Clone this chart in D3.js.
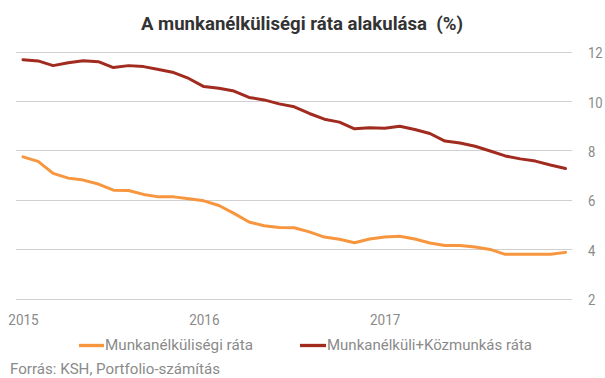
<!DOCTYPE html>
<html>
<head>
<meta charset="utf-8">
<script src="https://cdn.jsdelivr.net/npm/d3@7"></script>
<style>
  html, body { margin: 0; padding: 0; background: #fff; }
  svg { display: block; font-family: Roboto, "Noto Sans", sans-serif; }
  text { white-space: pre; }
</style>
</head>
<body>
<svg id="chart" width="605" height="378"></svg>
<script>
const title = "A munkanélküliségi ráta alakulása  (%)";
const source = "Forrás: KSH, Portfolio-számítás";
const months = ["2015-01","2015-02","2015-03","2015-04","2015-05","2015-06","2015-07","2015-08","2015-09","2015-10","2015-11","2015-12",
  "2016-01","2016-02","2016-03","2016-04","2016-05","2016-06","2016-07","2016-08","2016-09","2016-10","2016-11","2016-12",
  "2017-01","2017-02","2017-03","2017-04","2017-05","2017-06","2017-07","2017-08","2017-09","2017-10","2017-11","2017-12","2018-01"];
const seriesNames = ["Munkanélküliségi ráta", "Munkanélküli+Közmunkás ráta"];
const unemployment = [7.76,7.58,7.09,6.90,6.82,6.66,6.41,6.40,6.24,6.14,6.14,6.06,5.98,5.79,5.47,5.12,4.97,4.90,4.89,4.72,4.51,4.42,4.28,4.43,4.51,4.54,4.43,4.27,4.17,4.17,4.11,4.01,3.81,3.81,3.81,3.81,3.89];
const withPublicWork = [11.70,11.65,11.46,11.58,11.66,11.62,11.38,11.46,11.42,11.30,11.18,10.94,10.61,10.54,10.43,10.17,10.07,9.91,9.79,9.52,9.29,9.17,8.90,8.94,8.92,9.00,8.87,8.71,8.40,8.32,8.19,8.00,7.80,7.68,7.59,7.43,7.29];
const xTickMonths = ["2015-01","2016-01","2017-01"];
const xTickLabels = ["2015","2016","2017"];
const yTicks = [2,4,6,8,10,12];
const colors = ["#f7963e", "#a22b20"];

const svg = d3.select("#chart");
const x = d3.scalePoint().domain(months).range([23, 565.5]);
const y = d3.scaleLinear().domain([2, 12]).range([299, 52.3]);
const gray = "#8a8a8a";

function condense(sel, k) {
  sel.each(function() {
    const w = this.getComputedTextLength();
    d3.select(this).attr("textLength", w * k).attr("lengthAdjust", "spacingAndGlyphs");
  });
}

// grid
svg.append("g").selectAll("line").data(yTicks).join("line")
  .attr("x1", 16).attr("x2", 572)
  .attr("y1", d => y(d)).attr("y2", d => y(d))
  .attr("stroke", "#d0d0d0").attr("stroke-width", 1).attr("shape-rendering", "crispEdges");

// y axis labels (right)
const yAxis = d3.axisRight(y).tickValues(yTicks).tickSize(0).tickPadding(0);
const gy = svg.append("g").attr("transform", "translate(588,0)").call(yAxis);
gy.select(".domain").remove();
gy.selectAll("text").attr("fill", gray).attr("font-size", 15).attr("dy", "0.36em")
  .attr("font-family", "Roboto").call(condense, 0.87);

// x axis labels
const xAxis = d3.axisBottom(x).tickValues(xTickMonths).tickFormat((d, i) => xTickLabels[i]).tickSize(0).tickPadding(0);
const gx = svg.append("g").attr("transform", "translate(0,314)").call(xAxis);
gx.select(".domain").remove();
gx.selectAll("text").attr("fill", gray).attr("font-size", 15).attr("dy", "0.71em")
  .attr("font-family", "Roboto").call(condense, 0.9);

// lines
const line = d3.line().x((d, i) => x(months[i])).y(d => y(d));
[unemployment, withPublicWork].forEach((s, k) => {
  svg.append("path").datum(s).attr("d", line)
    .attr("fill", "none").attr("stroke", colors[k]).attr("stroke-width", 3)
    .attr("stroke-linejoin", "round").attr("stroke-linecap", "round");
});

// title
svg.append("text").attr("x", 302).attr("y", 30).attr("text-anchor", "middle")
  .attr("font-size", 18.5).attr("font-weight", "bold").attr("fill", "#333")
  .attr("textLength", 322).attr("lengthAdjust", "spacingAndGlyphs")
  .text(title);

// legend
const legendItems = [
  {x1: 79, x2: 104, tx: 105, w: 148},
  {x1: 300, x2: 326, tx: 327, w: 205}
];
legendItems.forEach((l, k) => {
  svg.append("line").attr("x1", l.x1).attr("x2", l.x2).attr("y1", 345.5).attr("y2", 345.5)
    .attr("stroke", colors[k]).attr("stroke-width", 3.3);
  svg.append("text").attr("x", l.tx).attr("y", 350).attr("font-size", 15).attr("fill", gray)
    .attr("textLength", l.w).attr("lengthAdjust", "spacingAndGlyphs")
    .text(seriesNames[k]);
});

// source
svg.append("text").attr("x", 10).attr("y", 374).attr("font-size", 15).attr("fill", gray)
  .attr("textLength", 210).attr("lengthAdjust", "spacingAndGlyphs")
  .text(source);
</script>
</body>
</html>
